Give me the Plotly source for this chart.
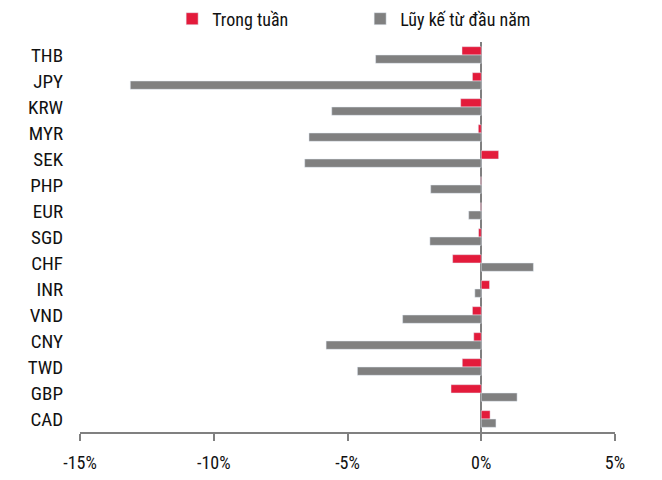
import plotly.graph_objects as go

currencies = ["THB", "JPY", "KRW", "MYR", "SEK", "PHP", "EUR", "SGD",
              "CHF", "INR", "VND", "CNY", "TWD", "GBP", "CAD"]
weekly = [-0.72, -0.33, -0.77, -0.11, 0.65, -0.02, -0.02, -0.10,
          -1.07, 0.31, -0.33, -0.28, -0.71, -1.13, 0.33]
ytd = [-3.95, -13.12, -5.59, -6.44, -6.60, -1.89, -0.47, -1.92,
       1.95, -0.24, -2.94, -5.80, -4.63, 1.34, 0.55]
tick_vals = [-15, -10, -5, 0, 5]
tick_text = ["-15%", "-10%", "-5%", "0%", "5%"]

font_name = "Roboto Condensed, Liberation Sans Narrow, sans-serif"

fig = go.Figure()
fig.add_trace(go.Bar(
    y=currencies, x=weekly, orientation="h",
    name="Trong tuần", marker_color="#E31B3B",
))
fig.add_trace(go.Bar(
    y=currencies, x=ytd, orientation="h",
    name="Lũy kế từ đầu năm", marker_color="#808080",
))

# page body has an 8px margin, so the figure is a bit smaller than the window
fig.update_layout(
    width=654, height=472,
    margin=dict(l=72, r=47, t=34, b=48, autoexpand=False),
    barmode="group",
    bargap=0.36,
    bargroupgap=0,
    plot_bgcolor="white",
    paper_bgcolor="white",
    font=dict(family=font_name, size=18, color="#111"),
    showlegend=True,
    legend=dict(
        orientation="h", xref="container", yref="paper",
        x=0.251, xanchor="left", y=1.059, yanchor="middle",
        font=dict(size=18), entrywidth=143, itemwidth=30,
    ),
)
fig.update_xaxes(
    range=[-15, 5], tickvals=tick_vals, ticktext=tick_text,
    showgrid=False, showline=True, linecolor="#808080", linewidth=1.5,
    ticks="outside", ticklen=7, tickcolor="#808080", tickwidth=1.5,
    zeroline=True, zerolinecolor="#808080", zerolinewidth=1.5,
    ticklabelstandoff=7, automargin=False,
)
fig.update_yaxes(
    autorange="reversed", showgrid=False, showline=False,
    ticks="", ticklabelstandoff=16, tickfont=dict(size=19), automargin=False,
)

fig.write_html("out.html")
